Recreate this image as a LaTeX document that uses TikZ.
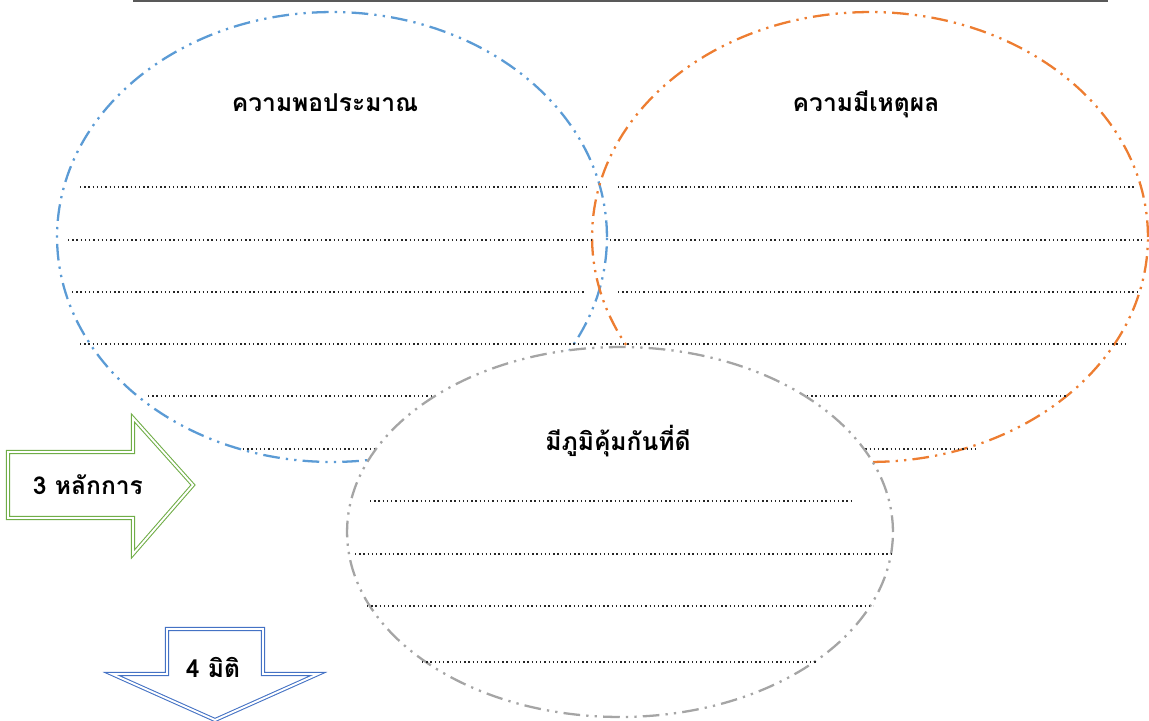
\documentclass[tikz,border=0pt]{standalone}
\usepackage{fontspec}
\newfontfamily\thaifont[Script=Thai]{Loma}
\usepackage{tikz}
\definecolor{ovalblue}{HTML}{5B9BD5}
\definecolor{ovalorange}{HTML}{ED7D31}
\definecolor{ovalgray}{HTML}{A5A5A5}
\definecolor{arrowgreen}{HTML}{70AD47}
\definecolor{arrowblue}{HTML}{4472C4}

\begin{document}
\begin{tikzpicture} [x=0.02cm, y=-0.02cm,
    oval/.style={line width=1.3pt, dash pattern=on 9.5pt off 3.5pt on 1.3pt off 3.5pt on 1.3pt off 3.5pt},
    writeline/.style={line width=0.8pt, dash pattern=on 0.8pt off 1.6pt, black!85},
    blockarrow/.style={line width=0.6pt, double=white, double distance=1.1pt, line join=miter},
    heading/.style={font=\thaifont\bfseries\fontsize{14}{17}\selectfont, inner sep=0pt, anchor=base}]
      \useasboundingbox (0,0) rectangle (1149,720);
      \draw[black!65, line width=1pt] (133,1) -- (1108,1); %draw rule at top

      %draw blue and orange ovals
      \draw[oval, ovalblue] (332,237) ellipse [x radius=5.5cm, y radius=4.5cm];
      \draw[oval, ovalorange] (870,237) ellipse [x radius=5.56cm, y radius=4.5cm];

      %draw lines to write on
      \draw[writeline] (80,187) -- (588,187);
      \draw[writeline] (68,240) -- (592,240);
      \draw[writeline] (72,292) -- (585,292);
      \draw[writeline] (80,344) -- (598,344);
      \draw[writeline] (148,396) -- (450,396);
      \draw[writeline] (243,449) -- (390,449);
      \draw[writeline] (618,187) -- (1136,187);
      \draw[writeline] (610,240) -- (1142,240);
      \draw[writeline] (618,292) -- (1137,292);
      \draw[writeline] (602,344) -- (1125,344);
      \draw[writeline] (790,396) -- (1067,396);
      \draw[writeline] (840,449) -- (977,449);

      %draw gray oval on top
      \draw[oval, ovalgray, fill=white] (620,532) ellipse [x radius=5.46cm, y radius=3.7cm];
      \draw[writeline] (370,501) -- (852,501);
      \draw[writeline] (355,554) -- (892,554);
      \draw[writeline] (367,606) -- (873,606);
      \draw[writeline] (422,662) -- (816,662);

      %draw block arrows
      \draw[blockarrow, arrowgreen] (8,452) -- (133,452) -- (133,418) -- (193,485) -- (133,554) -- (133,518) -- (8,518) -- cycle;
      \draw[blockarrow, arrowblue] (167,629) -- (263,629) -- (263,674) -- (318,674) -- (215,720) -- (112,674) -- (167,674) -- cycle;

      %draw labels
      \node[heading] (sufficiency) at (325,111) {ความพอประมาณ};
      \node[heading] (reason) at (866,111) {ความมีเหตุผล};
      \node[heading] (immunity) at (618,450) {มีภูมิคุ้มกันที่ดี};
      \node[heading] (principles) at (88,494) {3 หลักการ};
      \node[heading] (dimensions) at (213,677) {4 มิติ};
\end{tikzpicture}
\end{document}
